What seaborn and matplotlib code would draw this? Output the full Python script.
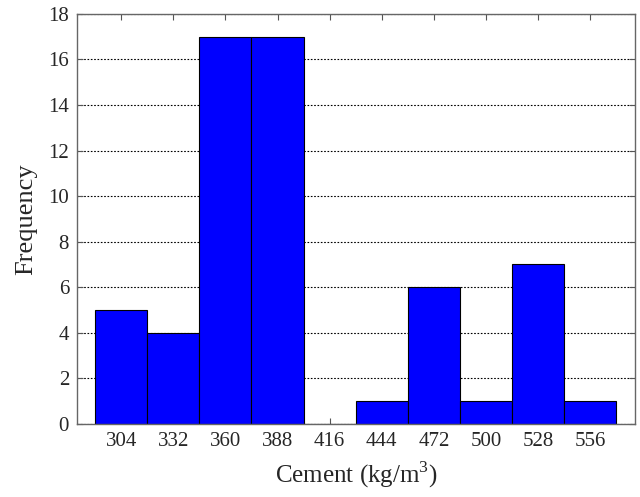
import numpy as np
import pandas as pd
import matplotlib
matplotlib.use("Agg")
import matplotlib.pyplot as plt
import seaborn as sns

bin_centers = [304, 332, 360, 388, 416, 444, 472, 500, 528, 556]
frequency = [5, 4, 17, 17, 0, 1, 6, 1, 7, 1]
y_ticks = [0, 2, 4, 6, 8, 10, 12, 14, 16, 18]

sns.set_theme(style="white")
plt.rcParams['font.family'] = ['Liberation Serif', 'DejaVu Serif']
plt.rcParams['mathtext.fontset'] = 'custom'
plt.rcParams['mathtext.rm'] = 'Liberation Serif'

df = pd.DataFrame({"Cement": bin_centers, "Frequency": frequency})

fig = plt.figure(figsize=(6.4, 4.97), dpi=100)
ax = fig.add_axes([0.121, 0.1475, 0.871, 0.8245])
ax.set_axisbelow(True)
ax.yaxis.grid(True, linestyle=(0, (1.5, 1.5)), color='black', linewidth=0.8)
ax.xaxis.grid(False)

sns.barplot(data=df, x="Cement", y="Frequency", native_scale=True, width=1.0,
            ax=ax, color='#0000ff', saturation=1, edgecolor='black', linewidth=0.8)
for p in ax.patches:
    p.set_alpha(1)

ax.set_xlim(280.5, 580)
ax.set_ylim(0, 18)
ax.set_xticks(bin_centers)
ax.set_xticklabels([str(c) for c in bin_centers])
ax.set_yticks(y_ticks)
ax.tick_params(axis='both', direction='in', length=4, width=0.8, color='#555555',
               labelsize=15, top=True, right=True, bottom=True, left=True, pad=6)
for s in ax.spines.values():
    s.set_color('#666666')
    s.set_linewidth(1.0)
ax.set_xlabel("Cement (kg/m$^3$)", fontsize=18, labelpad=6)
ax.set_ylabel("Frequency", fontsize=19, labelpad=8)

fig.savefig("out.png", dpi=100)
